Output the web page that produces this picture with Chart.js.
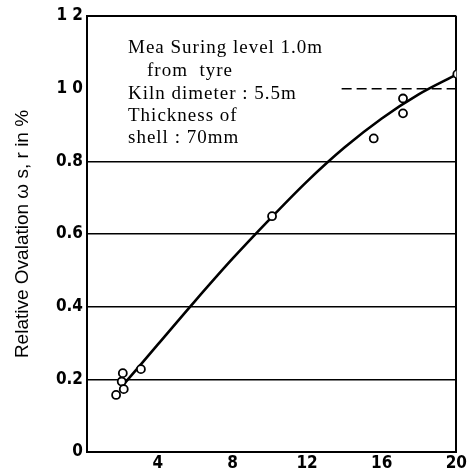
<!DOCTYPE html>
<html>
<head>
<meta charset="utf-8">
<script src="https://cdn.jsdelivr.net/npm/chart.js@4.4.0/dist/chart.umd.min.js"></script>
<style>
  html, body { margin: 0; padding: 0; background: #fff; }
  #wrap { width: 468px; height: 474px; }
</style>
</head>
<body>
<div id="wrap"><canvas id="myChart" width="468" height="474"></canvas></div>
<script>
// measured points (distance from tyre vs relative ovalation)
var pointX = [1.76, 2.06, 2.12, 2.17, 3.09, 10.12, 15.57, 17.14, 17.14, 20.05];
var pointY = [0.157, 0.194, 0.217, 0.173, 0.228, 0.649, 0.863, 0.932, 0.973, 1.04];

// fitted curve
var curveX = [2.2, 4, 6, 8, 10, 12, 14, 16, 18, 20.05];
var curveY = [0.188, 0.296, 0.416, 0.532, 0.641, 0.745, 0.838, 0.918, 0.985, 1.04];

// dashed line at 1.0 (right part only)
var refLineX = [13.85, 20];
var refLineY = [1.0, 1.0];

var xTicks = [4, 8, 12, 16, 20];
var yTickLabels = ['0', '0.2', '0.4', '0.6', '0.8', '1 0', '1 2'];

var yTitle = 'Relative Ovalation \u03c9 s, r in %';
var noteLines = ['Mea Suring level 1.0m', 'from  tyre', 'Kiln dimeter : 5.5m', 'Thickness of', 'shell : 70mm'];

function toXY(xs, ys) {
  var out = [];
  for (var i = 0; i < xs.length; i++) {
    out.push({x: xs[i], y: ys[i]});
  }
  return out;
}

var tickFont = {family: "'DejaVu Sans Condensed', 'Liberation Sans Narrow', sans-serif", size: 17, weight: 'bold'};

var notePlugin = {
  id: 'note',
  afterDraw: function(chart) {
    var ctx = chart.ctx;
    ctx.save();
    ctx.fillStyle = '#000';
    ctx.font = "19px 'Liberation Serif', serif";
    ctx.letterSpacing = '1px';
    ctx.textBaseline = 'alphabetic';
    var left = [128, 147, 128, 128, 128];
    var base = [53, 76, 99, 121, 143];
    for (var i = 0; i < noteLines.length; i++) {
      ctx.fillText(noteLines[i], left[i], base[i]);
    }
    ctx.restore();
  }
};

var ctx = document.getElementById('myChart').getContext('2d');
var chart = new Chart(ctx, {
  type: 'scatter',
  data: {
    datasets: [{
      label: 'measured',
      data: toXY(pointX, pointY),
      pointRadius: 4,
      pointBorderWidth: 1.8,
      pointBorderColor: '#000',
      pointBackgroundColor: '#fff',
      showLine: false
    }, {
      label: 'curve',
      data: toXY(curveX, curveY),
      showLine: true,
      cubicInterpolationMode: 'monotone',
      borderColor: '#000',
      borderWidth: 2.6,
      pointRadius: 0
    }, {
      label: 'ref',
      data: toXY(refLineX, refLineY),
      showLine: true,
      borderColor: '#000',
      borderWidth: 1.5,
      borderDash: [10, 5],
      pointRadius: 0
    }]
  },
  options: {
    responsive: false,
    animation: false,
    layout: {padding: {top: 16, right: 10, left: 0, bottom: 0}},
    plugins: {
      legend: {display: false},
      tooltip: {enabled: false}
    },
    scales: {
      x: {
        type: 'linear',
        min: 0.2,
        max: 20,
        afterBuildTicks: function(scale) {
          scale.ticks = xTicks.map(function(v) { return {value: v}; });
        },
        afterFit: function(scale) { scale.height = 22; },
        ticks: {font: tickFont, color: '#000', padding: 1, maxRotation: 0},
        border: {display: true, color: '#000', width: 2},
        grid: {
          drawTicks: false,
          lineWidth: 2,
          color: function(c) {
            return (c.tick && c.tick.value === 20) ? '#000' : 'rgba(0,0,0,0)';
          }
        }
      },
      y: {
        min: 0,
        max: 1.2,
        afterFit: function(scale) { scale.width = 87; },
        ticks: {
          stepSize: 0.2,
          font: tickFont,
          color: '#000',
          padding: 4,
          callback: function(value, index) { return yTickLabels[index]; }
        },
        border: {display: true, color: '#000', width: 2},
        grid: {
          drawTicks: false,
          lineWidth: function(c) {
            return (c.tick && Math.abs(c.tick.value - 1.2) < 1e-6) ? 2 : 1.6;
          },
          color: function(c) {
            if (c.tick && Math.abs(c.tick.value - 1.0) < 1e-6) return 'rgba(0,0,0,0)';
            return '#000';
          }
        },
        title: {
          display: true,
          text: yTitle,
          color: '#000',
          font: {family: "'Liberation Sans', Arial, sans-serif", size: 19},
          padding: {top: 11, bottom: 0}
        }
      }
    }
  },
  plugins: [notePlugin]
});
</script>
</body>
</html>
